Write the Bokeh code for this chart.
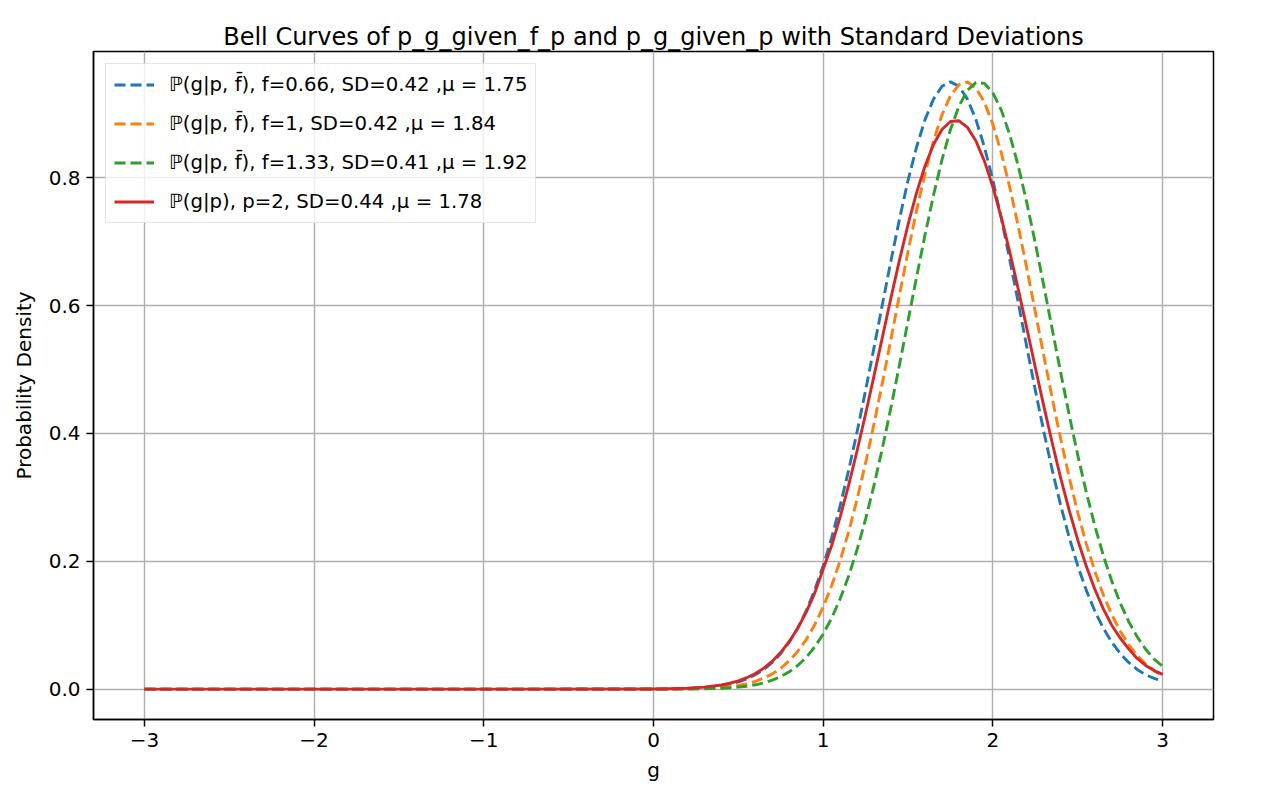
from bokeh.plotting import figure
from bokeh.models import Range1d, FixedTicker, Legend, LegendItem
from bokeh.embed import file_html
from bokeh.resources import INLINE

# ---- data ----
g_values = [-3.0, -2.0, -1.0, 0.0, 0.1, 0.2, 0.3, 0.4, 0.45, 0.5,
            0.55, 0.6, 0.65, 0.7, 0.75, 0.8, 0.85, 0.9, 0.95, 1.0,
            1.05, 1.1, 1.15, 1.2, 1.25, 1.3, 1.35, 1.4, 1.45, 1.5,
            1.55, 1.6, 1.65, 1.7, 1.75, 1.8, 1.85, 1.9, 1.95, 2.0,
            2.05, 2.1, 2.15, 2.2, 2.25, 2.3, 2.35, 2.4, 2.45, 2.5,
            2.55, 2.6, 2.65, 2.7, 2.75, 2.8, 2.85, 2.9, 2.95, 3.0]

density_f066 = [0.0, 0.0, 0.0, 0.0002, 0.0004, 0.0010, 0.0025, 0.0054, 0.0079, 0.0113,
                0.016, 0.0224, 0.0308, 0.0417, 0.0558, 0.0736, 0.0957, 0.1226, 0.1549, 0.193,
                0.2369, 0.287, 0.3424, 0.403, 0.4677, 0.535, 0.6036, 0.671, 0.736, 0.796,
                0.848, 0.891, 0.923, 0.943, 0.950, 0.943, 0.923, 0.891, 0.848, 0.796,
                0.736, 0.671, 0.604, 0.535, 0.4677, 0.403, 0.3424, 0.287, 0.2369, 0.193,
                0.1549, 0.1226, 0.0957, 0.0736, 0.0558, 0.0417, 0.0308, 0.0224, 0.0168, 0.0125]

density_f1 = [0.0, 0.0, 0.0, 0.0001, 0.0002, 0.0005, 0.0011, 0.0027, 0.0040, 0.0059,
              0.0085, 0.0122, 0.0172, 0.0239, 0.0327, 0.0443, 0.0591, 0.0776, 0.1006, 0.1286,
              0.162, 0.2012, 0.2464, 0.2975, 0.3542, 0.4157, 0.481, 0.5487, 0.6173, 0.6846,
              0.7485, 0.8068, 0.8576, 0.8986, 0.9284, 0.9457, 0.9497, 0.9404, 0.918, 0.8835,
              0.8384, 0.7843, 0.7234, 0.658, 0.590, 0.5215, 0.4545, 0.3906, 0.3309, 0.2763,
              0.2276, 0.1848, 0.1479, 0.1168, 0.0909, 0.0697, 0.0527, 0.0393, 0.0289, 0.021]

density_f133 = [0.0, 0.0, 0.0, 0.0, 0.0001, 0.0002, 0.0006, 0.0014, 0.0021, 0.0031,
                0.0046, 0.0068, 0.0098, 0.014, 0.0196, 0.0271, 0.037, 0.0498, 0.066, 0.0863,
                0.1112, 0.1413, 0.1769, 0.2186, 0.2662, 0.3196, 0.3783, 0.4415, 0.508, 0.5762,
                0.6445, 0.7106, 0.7726, 0.8282, 0.8753, 0.912, 0.9369, 0.9489, 0.9476, 0.9329,
                0.9055, 0.8667, 0.8178, 0.7607, 0.6977, 0.6309, 0.5625, 0.4944, 0.4285, 0.3661,
                0.3085, 0.2561, 0.2097, 0.1694, 0.1348, 0.1058, 0.0819, 0.0624, 0.047, 0.0358]

density_p2 = [0.0, 0.0, 0.0, 0.0002, 0.0006, 0.0014, 0.0031, 0.0065, 0.0092, 0.0129,
              0.0179, 0.0244, 0.0329, 0.0438, 0.0575, 0.0745, 0.0953, 0.1204, 0.1502, 0.188,
              0.2247, 0.2696, 0.3193, 0.3733, 0.4308, 0.4909, 0.552, 0.613, 0.6719, 0.7269,
              0.7763, 0.8185, 0.852, 0.8754, 0.8879, 0.8891, 0.8788, 0.8575, 0.826, 0.7854,
              0.7373, 0.6832, 0.625, 0.5643, 0.5031, 0.4427, 0.3846, 0.3297, 0.2792, 0.2334,
              0.1925, 0.1567, 0.126, 0.1000, 0.080, 0.063, 0.048, 0.037, 0.029, 0.023]

series_labels = [
    "\u2119(g|p, f\u0304), f=0.66, SD=0.42 ,\u03bc = 1.75",
    "\u2119(g|p, f\u0304), f=1, SD=0.42 ,\u03bc = 1.84",
    "\u2119(g|p, f\u0304), f=1.33, SD=0.41 ,\u03bc = 1.92",
    "\u2119(g|p), p=2, SD=0.44 ,\u03bc = 1.78",
]
series_colors = ["#1f77b4", "#ff7f0e", "#2ca02c", "#d62728"]
series_dashes = ["11 5", "11 5", "11 5", "solid"]

x_ticks = [-3, -2, -1, 0, 1, 2, 3]
x_tick_labels = ["\u22123", "\u22122", "\u22121", "0", "1", "2", "3"]
y_ticks = [0.0, 0.2, 0.4, 0.6, 0.8]
y_tick_labels = ["0.0", "0.2", "0.4", "0.6", "0.8"]

title_text = "Bell Curves of p_g_given_f_p and p_g_given_p with Standard Deviations"
x_label = "g"
y_label = "Probability Density"

FONT = "DejaVu Sans"

all_series = [density_f066, density_f1, density_f133, density_p2]
xmin, xmax = min(g_values), max(g_values)
ymin = min(min(s) for s in all_series)
ymax = max(max(s) for s in all_series)
xpad = (xmax - xmin) * 0.05
ypad = (ymax - ymin) * 0.05

p = figure(
    frame_width=1120, frame_height=668,
    min_border_left=93, min_border_right=51, min_border_top=51, min_border_bottom=67,
    x_range=Range1d(xmin - xpad, xmax + xpad),
    y_range=Range1d(ymin - ypad, ymax + ypad),
    output_backend="svg", toolbar_location=None,
    title=title_text,
)
p.background_fill_color = "white"
p.border_fill_color = "white"
p.outline_line_color = "black"
p.outline_line_width = 1.5

p.title.align = "center"
p.title.text_font = FONT
p.title.text_font_size = "24px"
p.title.text_font_style = "normal"
p.title.text_color = "black"
p.title.standoff = 1

for ax in (p.xaxis[0], p.yaxis[0]):
    ax.axis_line_color = "black"
    ax.axis_line_width = 1.5
    ax.major_tick_line_color = "black"
    ax.major_tick_line_width = 1.5
    ax.major_tick_out = 7
    ax.major_tick_in = 0
    ax.minor_tick_out = 0
    ax.minor_tick_in = 0
    ax.major_label_text_font = FONT
    ax.major_label_text_font_size = "20px"
    ax.major_label_text_color = "black"
    ax.major_label_standoff = 6
    ax.axis_label_text_font = FONT
    ax.axis_label_text_font_size = "20px"
    ax.axis_label_text_font_style = "normal"
    ax.axis_label_text_color = "black"

p.xaxis[0].ticker = FixedTicker(ticks=x_ticks)
p.xaxis[0].major_label_overrides = {t: l for t, l in zip(x_ticks, x_tick_labels)}
p.yaxis[0].ticker = FixedTicker(ticks=y_ticks)
p.yaxis[0].major_label_overrides = {t: l for t, l in zip(y_ticks, y_tick_labels)}
p.xaxis[0].axis_label = x_label
p.yaxis[0].axis_label = y_label
p.xaxis[0].axis_label_standoff = 8
p.yaxis[0].axis_label_standoff = 10

p.xgrid[0].ticker = FixedTicker(ticks=x_ticks)
p.ygrid[0].ticker = FixedTicker(ticks=y_ticks)
for gr in (p.xgrid[0], p.ygrid[0]):
    gr.grid_line_color = "#b0b0b0"
    gr.grid_line_width = 1.5

items = []
for ys, lab, col, dash in zip(all_series, series_labels, series_colors, series_dashes):
    r = p.line(g_values, ys, line_color=col, line_width=2.9, line_dash=dash,
               line_join="round")
    items.append(LegendItem(label=lab, renderers=[r]))

legend = Legend(items=items, location="top_left")
legend.margin = 12
legend.padding = 8
legend.spacing = 14
legend.label_height = 25
legend.glyph_height = 25
legend.glyph_width = 40
legend.label_standoff = 15
legend.label_text_font = FONT
legend.label_text_font_size = "19.7px"
legend.label_text_color = "black"
legend.border_line_color = "#cccccc"
legend.border_line_width = 1.5
legend.background_fill_color = "white"
legend.background_fill_alpha = 0.8
p.add_layout(legend)

open("out.html", "w").write(file_html(p, INLINE))
